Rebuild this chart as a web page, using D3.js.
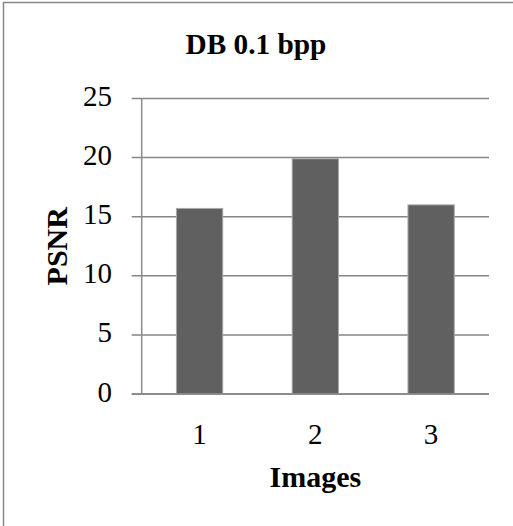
<!DOCTYPE html>
<html><head><meta charset="utf-8">
<script src="https://cdn.jsdelivr.net/npm/d3@7"></script>
<style>html,body{margin:0;padding:0;background:#fff;overflow:hidden}
svg text{font-family:"Liberation Serif","Times New Roman",Times,"DejaVu Serif",serif;}</style>
</head><body>
<script>
const categories = ["1", "2", "3"];
const values = [15.7, 19.9, 16.0];
const yTicks = [0, 5, 10, 15, 20, 25];
const chartTitle = "DB 0.1 bpp";
const xTitle = "Images";
const yTitle = "PSNR";

(function () {
const W = 513, H = 526;
const svg = d3.select("body").append("svg").attr("width", W).attr("height", H);

// outer chart border (extends beyond the window on right/bottom)
svg.append("rect").attr("x", 3.5).attr("y", 2.5).attr("width", 520).attr("height", 540)
  .attr("fill", "#fff").attr("stroke", "#868686").attr("stroke-width", 1.5);

const pL = 141.7, pR = 489, pT = 98.5, pB = 394;
const x = d3.scaleBand().domain(categories).range([pL, pR]).paddingInner(0.6).paddingOuter(0.3);
const y = d3.scaleLinear().domain([0, 25]).range([pB, pT]);

// gridlines
svg.append("g").selectAll("line").data(yTicks).join("line")
  .attr("x1", pL - 10).attr("x2", pR)
  .attr("y1", d => y(d)).attr("y2", d => y(d))
  .attr("stroke", "#868686").attr("stroke-width", 1.5);

// bars
svg.append("g").selectAll("rect").data(values).join("rect")
  .attr("x", (d, i) => x(categories[i]))
  .attr("width", x.bandwidth())
  .attr("y", d => y(d))
  .attr("height", d => y(0) - y(d))
  .attr("fill", "#606060").attr("stroke", "#a8a8a8").attr("stroke-width", 1);

// y axis line
svg.append("line").attr("x1", pL).attr("x2", pL).attr("y1", pT).attr("y2", pB)
  .attr("stroke", "#8c8c8c").attr("stroke-width", 1.5);
// baseline
svg.append("line").attr("x1", pL - 10).attr("x2", pR).attr("y1", pB).attr("y2", pB)
  .attr("stroke", "#868686").attr("stroke-width", 1.5);

// y tick labels
svg.append("g").selectAll("text").data(yTicks).join("text")
  .attr("x", 112).attr("y", d => y(d) + 7.5)
  .attr("text-anchor", "end")
  .style("font-size", "29px").attr("fill", "#000")
  .text(d => d);

// x tick labels
svg.append("g").selectAll("text").data(categories).join("text")
  .attr("x", d => x(d) + x.bandwidth() / 2).attr("y", 444)
  .attr("text-anchor", "middle")
  .style("font-size", "29px").attr("fill", "#000")
  .text(d => d);

// title
svg.append("text").attr("x", 256).attr("y", 54).attr("text-anchor", "middle")
  .style("font-weight", "bold").style("font-size", "29.3px")
  .text(chartTitle);

// x axis title
svg.append("text").attr("x", (pL + pR) / 2).attr("y", 487).attr("text-anchor", "middle")
  .style("font-weight", "bold").style("font-size", "30px")
  .text(xTitle);

// y axis title
svg.append("text").attr("transform", `translate(67,${(pT + pB) / 2}) rotate(-90)`)
  .attr("text-anchor", "middle")
  .style("font-weight", "bold").style("font-size", "30px")
  .text(yTitle);
})();
</script>
</body></html>
